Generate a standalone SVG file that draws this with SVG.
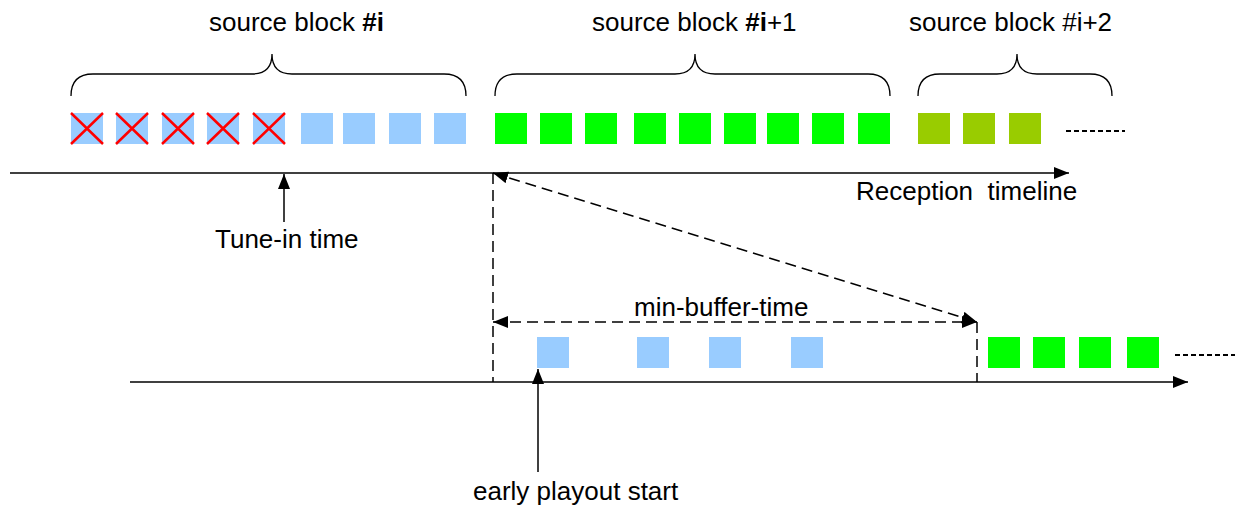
<svg xmlns="http://www.w3.org/2000/svg" width="1235" height="507" viewBox="0 0 1235 507">
<style>
text{font-family:"Liberation Sans",Arial,sans-serif;font-size:26px;fill:#000;white-space:pre}
.b{font-weight:bold}
.blue{fill:#99CCFF}
.green{fill:#00FF00}
.olive{fill:#99CC00}
.x{stroke:#FF0000;stroke-width:2.5;fill:none}
.brace{fill:none;stroke:#000;stroke-width:1.3}
.axis{stroke:#000;stroke-width:1.5;fill:none}
.dash{stroke:#000;stroke-width:1.5;fill:none;stroke-dasharray:11,6}
.dots{stroke:#000;stroke-width:2;stroke-dasharray:5,3}
</style>
<defs>
<marker id="ah" markerUnits="userSpaceOnUse" markerWidth="15" markerHeight="12" viewBox="0 0 15 12" refX="15" refY="6" orient="auto-start-reverse">
<path d="M0,0 L15,6 L0,12 z" fill="#000"/>
</marker>
</defs>
<g id="braces">
<path class="brace" d="M71,96 Q71,74 93,74 L252,74 Q272,74 272,54 Q272,74 292,74 L444,74 Q466,74 466,96"/>
<path class="brace" d="M495,96 Q495,74 517,74 L675,74 Q695,74 695,54 Q695,74 715,74 L868,74 Q890,74 890,96"/>
<path class="brace" d="M918,96 Q918,74 940,74 L997,74 Q1017,74 1017,54 Q1017,74 1037,74 L1090,74 Q1112,74 1112,96"/>
</g>
<g id="labels">
<text x="209" y="31">source block <tspan class="b">#i</tspan></text>
<text x="592" y="31">source block <tspan class="b">#i</tspan>+1</text>
<text x="909" y="31">source block #i+2</text>
<text x="856" y="200">Reception  timeline</text>
<text x="215" y="248">Tune-in time</text>
<text x="634" y="316">min-buffer-time</text>
<text x="473" y="500">early playout start</text>
</g>
<g id="block-i">
<rect class="blue" x="71" y="113" width="32" height="31"/>
<rect class="blue" x="116" y="113" width="32" height="31"/>
<rect class="blue" x="162" y="113" width="32" height="31"/>
<rect class="blue" x="207" y="113" width="32" height="31"/>
<rect class="blue" x="253" y="113" width="32" height="31"/>
<rect class="blue" x="301" y="113" width="32" height="31"/>
<rect class="blue" x="343" y="113" width="32" height="31"/>
<rect class="blue" x="389" y="113" width="32" height="31"/>
<rect class="blue" x="434" y="113" width="32" height="31"/>
<path class="x" d="M71,113 L103,144 M103,113 L71,144 M116,113 L148,144 M148,113 L116,144 M162,113 L194,144 M194,113 L162,144 M207,113 L239,144 M239,113 L207,144 M253,113 L285,144 M285,113 L253,144"/>
</g>
<g id="block-i1">
<rect class="green" x="495" y="113" width="32" height="31"/>
<rect class="green" x="540" y="113" width="32" height="31"/>
<rect class="green" x="585" y="113" width="32" height="31"/>
<rect class="green" x="634" y="113" width="32" height="31"/>
<rect class="green" x="679" y="113" width="32" height="31"/>
<rect class="green" x="724" y="113" width="32" height="31"/>
<rect class="green" x="767" y="113" width="32" height="31"/>
<rect class="green" x="812" y="113" width="32" height="31"/>
<rect class="green" x="858" y="113" width="32" height="31"/>
</g>
<g id="block-i2">
<rect class="olive" x="918" y="113" width="32" height="31"/>
<rect class="olive" x="963" y="113" width="32" height="31"/>
<rect class="olive" x="1009" y="113" width="32" height="31"/>
<line class="dots" x1="1066" y1="131" x2="1125" y2="131"/>
</g>
<g id="playout">
<rect class="blue" x="537" y="337" width="32" height="31"/>
<rect class="blue" x="637" y="337" width="32" height="31"/>
<rect class="blue" x="709" y="337" width="32" height="31"/>
<rect class="blue" x="791" y="337" width="32" height="31"/>
<rect class="green" x="988" y="337" width="32" height="31"/>
<rect class="green" x="1033" y="337" width="32" height="31"/>
<rect class="green" x="1079" y="337" width="32" height="31"/>
<rect class="green" x="1127" y="337" width="32" height="31"/>
<line class="dots" x1="1175" y1="355" x2="1235" y2="355"/>
</g>
<g id="connectors">
<line class="axis" x1="10" y1="173" x2="1069" y2="173" marker-end="url(#ah)"/>
<line class="axis" x1="130" y1="382" x2="1188" y2="382" marker-end="url(#ah)"/>
<line class="axis" x1="284" y1="222" x2="284" y2="174" marker-end="url(#ah)"/>
<line class="axis" x1="538" y1="472" x2="538" y2="369" marker-end="url(#ah)"/>
<line class="dash" x1="493" y1="173" x2="493" y2="382"/>
<line class="dash" x1="977" y1="322" x2="977" y2="382"/>
<line class="dash" x1="493" y1="173" x2="977" y2="322" marker-start="url(#ah)" marker-end="url(#ah)"/>
<line class="dash" x1="493" y1="322" x2="977" y2="322" marker-start="url(#ah)" marker-end="url(#ah)"/>
</g>
</svg>
